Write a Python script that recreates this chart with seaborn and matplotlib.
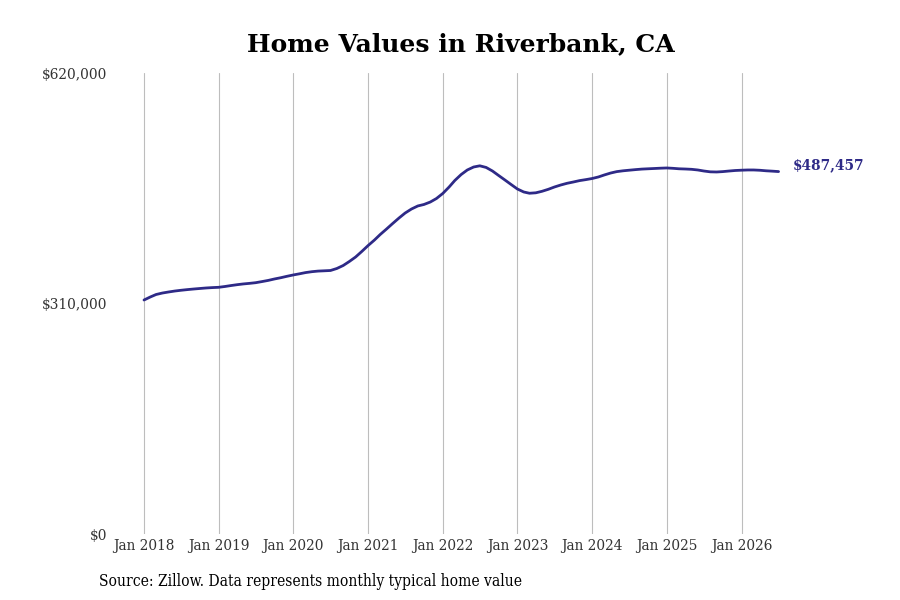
import pandas as pd
import seaborn as sns
import matplotlib.pyplot as plt
import matplotlib.dates as mdates

# monthly typical home value, Jan 2018 .. Jul 2026
values_2018 = [314700, 318800, 322100, 324100, 325500, 326800, 327800, 328700, 329500, 330200, 330900, 331400]
values_2019 = [331800, 332900, 334100, 335300, 336300, 337100, 338000, 339500, 341100, 343000, 344700, 346600]
values_2020 = [348400, 350000, 351600, 352800, 353600, 354000, 354400, 357100, 361100, 366500, 372600, 380000]
values_2021 = [388000, 395400, 402800, 410200, 417600, 425000, 431700, 437100, 441200, 443200, 446500, 451200]
values_2022 = [458000, 466700, 475500, 483500, 489600, 493600, 495200, 493000, 488200, 482200, 476100, 470100]
values_2023 = [464000, 460000, 458300, 458900, 460900, 463600, 466700, 469400, 471700, 473400, 475300, 476600]
values_2024 = [478100, 480200, 482900, 485500, 487400, 488500, 489300, 490100, 490800, 491200, 491600, 492000]
values_2025 = [492300, 491800, 491200, 490900, 490500, 489600, 488200, 487100, 486900, 487400, 488200, 488900]
values_2026 = [489300, 489600, 489600, 489200, 488500, 488000, 487457]

values = (values_2018 + values_2019 + values_2020 + values_2021 + values_2022
          + values_2023 + values_2024 + values_2025 + values_2026)
dates = pd.date_range('2018-01-01', periods=len(values), freq='MS')
df = pd.DataFrame({'date': dates, 'value': values})

y_ticks = [0, 310000, 620000]
y_labels = ['$0', '$310,000', '$620,000']
x_years = list(range(2018, 2027))

line_color = '#2e2a87'

sns.set_style('white')
plt.rcParams['font.family'] = ['DejaVu Serif']
plt.rcParams['font.stretch'] = 'condensed'

fig = plt.figure(figsize=(9, 6), dpi=100)
ax = fig.add_axes([0.14, 0.11, 0.7378, 0.7683])

sns.lineplot(data=df, x='date', y='value', color=line_color, linewidth=2, ax=ax)

start = mdates.date2num(pd.Timestamp('2018-01-01'))
ax.set_xlim(start - 88, start + 3159)
ax.set_ylim(0, 620000)

ax.set_xticks([pd.Timestamp(f'{y}-01-01') for y in x_years])
ax.set_xticklabels([f'Jan {y}' for y in x_years])
ax.set_yticks(y_ticks)
ax.set_yticklabels(y_labels)
ax.tick_params(axis='both', length=0, labelsize=11, colors='#333333')
ax.tick_params(axis='x', pad=3.5)
ax.tick_params(axis='y', pad=13.5)

ax.grid(axis='x', color='#bdbdbd', linewidth=0.8)
ax.grid(axis='y', visible=False)
for s in ax.spines.values():
    s.set_visible(False)
ax.set_xlabel('')
ax.set_ylabel('')

ax.annotate(f'${values[-1]:,}', xy=(df['date'].iloc[-1], values[-1]),
            xytext=(10, 4.5), textcoords='offset points', va='center', ha='left',
            color=line_color, fontsize=11, fontweight='bold')

fig.text(0.512, 0.926, 'Home Values in Riverbank, CA', ha='center', va='center',
         fontsize=18, fontweight='bold', fontstretch='normal', color='black')
fig.text(0.11, 0.03, 'Source: Zillow. Data represents monthly typical home value',
         ha='left', va='center', fontsize=11.2, color='black')

fig.savefig('out.png', dpi=100)
